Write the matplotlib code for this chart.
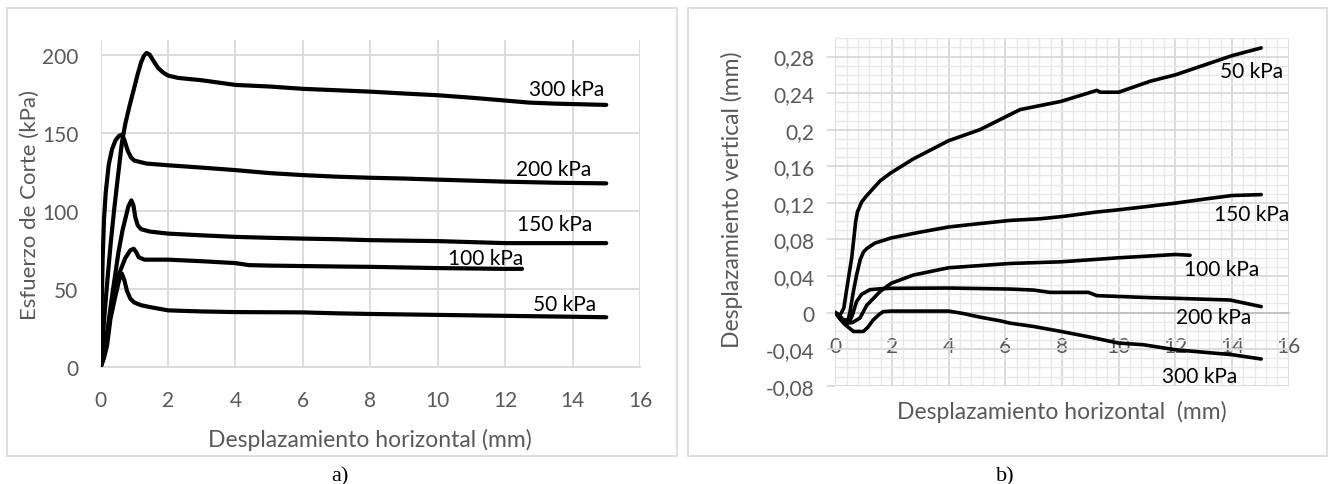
import numpy as np
import matplotlib
matplotlib.use("Agg")
import matplotlib.pyplot as plt
from matplotlib.patches import Rectangle
from matplotlib.ticker import MultipleLocator, FixedLocator

plt.rcParams['font.family'] = ['Lato', 'DejaVu Sans']

# ---- a) esfuerzo de corte vs desplazamiento horizontal ----
x300 = [0, 0.1, 0.2, 0.3, 0.4, 0.5, 0.63, 0.73, 0.85, 0.97, 1.1, 1.2, 1.28, 1.36, 1.45, 1.55, 1.7, 1.85, 2.0, 2.3, 3.0, 4.0, 5.0, 6.0, 7.0, 8.0, 9.0, 10.0, 11.0, 12.0, 12.7, 13.5, 15.0]
y300 = [0, 30, 56, 80, 101, 120, 144, 156, 167, 177, 188, 195.5, 199.5, 201.5, 200.5, 197, 192, 189, 187, 185.5, 184, 181, 180, 178.5, 177.6, 176.7, 175.5, 174.4, 172.8, 171, 169.7, 169, 168.2]

x200 = [0, 0.03, 0.06, 0.1, 0.15, 0.24, 0.34, 0.44, 0.55, 0.63, 0.7, 0.8, 0.9, 1.0, 1.36, 2, 3, 4, 5, 6, 7, 8, 9, 10, 12, 13.5, 15]
y200 = [0, 40, 70, 95, 112, 130, 140, 145.5, 148.5, 149, 146, 139, 134.5, 132.5, 130.6, 129.5, 128, 126.4, 124.5, 123.2, 122.2, 121.5, 121, 120.3, 119, 118.3, 117.9]

x150 = [0, 0.1, 0.19, 0.34, 0.53, 0.65, 0.73, 0.82, 0.91, 0.97, 1.03, 1.1, 1.2, 1.46, 2, 3, 4, 5, 6, 7, 8, 9, 10, 12, 15]
y150 = [0, 10, 22, 46, 74, 88, 95, 103, 107, 104, 96, 91, 88.5, 87, 85.7, 84.6, 83.6, 83, 82.5, 82.1, 81.5, 81.2, 80.9, 79.6, 79.6]

x100 = [0, 0.1, 0.19, 0.34, 0.53, 0.73, 0.88, 0.98, 1.05, 1.13, 1.3, 2, 3, 4, 4.4, 5, 6, 7.1, 8, 10, 12, 12.5]
y100 = [0, 8, 20, 40, 59, 70, 75, 76, 74, 70.5, 69, 69, 68, 66.8, 65.5, 65.2, 64.9, 64.6, 64.4, 63.6, 63.1, 63.1]

x50 = [0, 0.1, 0.19, 0.29, 0.44, 0.55, 0.63, 0.7, 0.78, 0.88, 1.0, 1.2, 1.46, 2, 3, 4, 6, 7, 8, 10, 12, 15]
y50 = [0, 6, 14, 31, 46, 56, 60, 56, 49, 44, 41.5, 39.8, 38.6, 36.5, 35.8, 35.4, 35.2, 34.6, 34.2, 33.6, 33, 32.1]

# ---- b) desplazamiento vertical vs horizontal ----
xb50 = [0, 0.17, 0.3, 0.45, 0.58, 0.72, 0.78, 0.93, 1.11, 1.58, 1.97, 2.75, 4.0, 5.1, 5.81, 6.52, 7.97, 9.23, 9.35, 10.0, 11.11, 12.0, 14.0, 15.03]
yb50 = [0, -0.003, 0.005, 0.035, 0.06, 0.1, 0.11, 0.121, 0.128, 0.144, 0.153, 0.168, 0.188, 0.2, 0.211, 0.222, 0.231, 0.243, 0.241, 0.241, 0.253, 0.26, 0.281, 0.2895]

xb150 = [0, 0.3, 0.45, 0.52, 0.62, 0.75, 0.88, 0.99, 1.11, 1.4, 1.97, 3.0, 4.0, 5.0, 6.17, 7.23, 8.0, 9.23, 10.0, 11.0, 12.0, 13.1, 14.0, 15.03]
yb150 = [0, -0.008, -0.008, 0.001, 0.02, 0.041, 0.058, 0.066, 0.07, 0.076, 0.0816, 0.088, 0.0936, 0.097, 0.1008, 0.1026, 0.105, 0.11, 0.1124, 0.116, 0.1197, 0.1244, 0.128, 0.129]

xb100 = [0, 0.2, 0.4, 0.6, 0.87, 1.11, 1.58, 1.97, 2.75, 4.0, 6.17, 7.97, 10.0, 12.0, 12.52]
yb100 = [0, -0.008, -0.0116, -0.011, -0.006, 0.008, 0.023, 0.032, 0.041, 0.049, 0.0537, 0.0555, 0.0599, 0.0635, 0.0627]

xb200 = [0, 0.2, 0.5, 0.6, 0.75, 0.93, 1.22, 1.58, 1.97, 4.0, 6.17, 6.99, 7.58, 8.93, 9.23, 11.1, 12.0, 13.93, 15.03]
yb200 = [0, -0.008, -0.01, -0.003, 0.012, 0.02, 0.025, 0.026, 0.0265, 0.0268, 0.0257, 0.0246, 0.0221, 0.0221, 0.0185, 0.0163, 0.0156, 0.0137, 0.0065]

xb300 = [0, 0.3, 0.64, 0.99, 1.15, 1.34, 1.55, 1.69, 1.97, 4.0, 4.5, 5.1, 5.81, 6.17, 6.99, 7.97, 8.87, 10.0, 10.87, 12.0, 14.0, 15.03]
yb300 = [0, -0.012, -0.0207, -0.0207, -0.016, -0.008, -0.002, 0.001, 0.0016, 0.0016, -0.001, -0.005, -0.009, -0.0116, -0.0152, -0.0207, -0.0261, -0.0334, -0.0352, -0.0407, -0.0461, -0.0508]

yticks_b = [-0.08, -0.04, 0, 0.04, 0.08, 0.12, 0.16, 0.2, 0.24, 0.28]
ytick_labels_b = ['-0,08', '-0,04', '0', '0,04', '0,08', '0,12', '0,16', '0,2', '0,24', '0,28']

gray_txt = '#595959'
grid_c = '#D9D9D9'

fig = plt.figure(figsize=(13.28, 4.85), dpi=100)

# marcos de los graficos
fig.patches.append(Rectangle((0.005, 0.058), 0.5045, 0.9225, transform=fig.transFigure,
                             fill=False, edgecolor=grid_c, linewidth=1.2))
fig.patches.append(Rectangle((0.518, 0.058), 0.4815, 0.9225, transform=fig.transFigure,
                             fill=False, edgecolor=grid_c, linewidth=1.2))

# ---------- a) ----------
ax1 = fig.add_axes([0.0758, 0.2406, 0.4061, 0.6755])
for xs, ys in [(x300, y300), (x200, y200), (x150, y150), (x100, y100), (x50, y50)]:
    ax1.plot(xs, ys, color='black', linewidth=3, solid_joinstyle='round', solid_capstyle='round', zorder=3)
ax1.set_xlim(0, 16)
ax1.set_ylim(0, 210)
ax1.xaxis.set_major_locator(MultipleLocator(2))
ax1.yaxis.set_major_locator(FixedLocator([0, 50, 100, 150, 200]))
ax1.grid(True, color=grid_c, linewidth=1.3)
ax1.set_axisbelow(True)
for s in ['top', 'right', 'left']:
    ax1.spines[s].set_visible(False)
ax1.spines['bottom'].set_color(grid_c)
ax1.spines['bottom'].set_linewidth(1.3)
ax1.tick_params(length=0, labelsize=15, labelcolor=gray_txt)
ax1.tick_params(axis='x', pad=16)
ax1.tick_params(axis='y', pad=16)
fig.text(30 / 1328, 1 - 205 / 485, 'Esfuerzo de Corte (kPa)', fontsize=16,
         color=gray_txt, ha='center', va='center', rotation=90)
fig.text(370 / 1328, 1 - 440 / 485, 'Desplazamiento horizontal (mm)', fontsize=16.5,
         color=gray_txt, ha='center', va='center')

for txt, tx, ty in [('300 kPa', 13.83, 178.2), ('200 kPa', 13.43, 127.3), ('150 kPa', 13.48, 92),
                    ('100 kPa', 11.42, 70.2), ('50 kPa', 13.75, 40.6)]:
    ax1.text(tx, ty, txt, fontsize=15, ha='center', va='center', color='black')

# ---------- b) ----------
ax2 = fig.add_axes([0.629, 0.2027, 0.3414, 0.7163])
for xs, ys in [(xb50, yb50), (xb150, yb150), (xb100, yb100), (xb200, yb200), (xb300, yb300)]:
    ax2.plot(xs, ys, color='black', linewidth=2.6, solid_joinstyle='round', solid_capstyle='round', zorder=3)
ax2.set_xlim(0, 16)
ax2.set_ylim(-0.08, 0.30)
ax2.xaxis.set_major_locator(MultipleLocator(2))
ax2.xaxis.set_minor_locator(MultipleLocator(0.4))
ax2.yaxis.set_major_locator(FixedLocator(yticks_b))
ax2.yaxis.set_minor_locator(MultipleLocator(0.01))
ax2.set_yticklabels(ytick_labels_b)
ax2.grid(True, which='minor', color='#E8E8E8', linewidth=1.0)
ax2.grid(True, which='major', color=grid_c, linewidth=1.3)
ax2.set_axisbelow(True)
for s in ['top', 'right', 'left']:
    ax2.spines[s].set_visible(False)
ax2.spines['bottom'].set_position(('data', 0))
ax2.spines['bottom'].set_color('#BFBFBF')
ax2.spines['bottom'].set_linewidth(1.3)
ax2.tick_params(which='minor', length=0)
ax2.tick_params(axis='x', which='major', length=0, labelsize=15, labelcolor=gray_txt, pad=17)
ax2.tick_params(axis='y', which='major', length=6, color=grid_c, width=1.3,
                labelsize=15, labelcolor=gray_txt, pad=9)
fig.text(731.7 / 1328, 1 - 200 / 485, 'Desplazamiento vertical (mm)', fontsize=16.5,
         color=gray_txt, ha='center', va='center', rotation=90)
fig.text(1062 / 1328, 1 - 411.7 / 485, 'Desplazamiento horizontal  (mm)', fontsize=16.5,
         color=gray_txt, ha='center', va='center')

for txt, tx, ty in [('50 kPa', 14.7, 0.264), ('150 kPa', 14.7, 0.108), ('100 kPa', 13.64, 0.0475),
                    ('200 kPa', 13.34, -0.0054), ('300 kPa', 12.87, -0.069)]:
    ax2.text(tx, ty, txt, fontsize=15, ha='center', va='center', color='black', zorder=4)

fig.text(340 / 1328, 1 - 477 / 485, 'a)', fontsize=16, family='Liberation Serif', ha='center', va='center')
fig.text(1005 / 1328, 1 - 477 / 485, 'b)', fontsize=16, family='Liberation Serif', ha='center', va='center')

fig.savefig('out.png', dpi=100)
